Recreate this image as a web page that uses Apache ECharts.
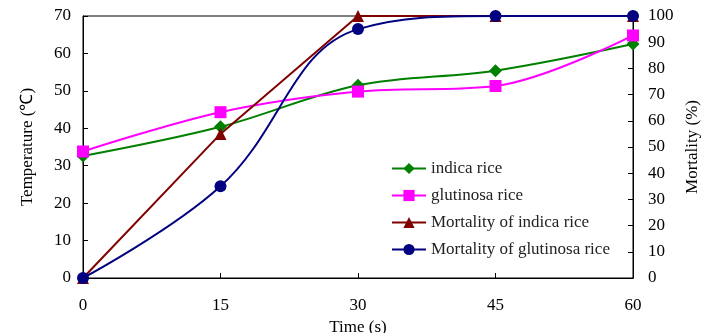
<!DOCTYPE html>
<html>
<head>
<meta charset="utf-8">
<script src="https://cdn.jsdelivr.net/npm/echarts@6/dist/echarts.min.js"></script>
<style>html,body{margin:0;padding:0;background:#fff;}#c{width:703px;height:333px;}</style>
</head>
<body>
<div id="c"></div>
<script>
var times = [0, 15, 30, 45, 60];
var indicaTemp = [32.6, 40.4, 51.5, 55.4, 62.5];
var glutinosaTemp = [33.8, 44.3, 49.8, 51.3, 64.8];
var indicaMort = [0, 55, 100, 100, 100];
var glutinosaMort = [0, 35, 95, 100, 100];
var seriesNames = ['indica rice', 'glutinosa rice', 'Mortality of indica rice', 'Mortality of glutinosa rice'];

function pairs(vals){ return times.map(function(t,i){ return [t, vals[i]]; }); }
var FONT = "'Liberation Serif', 'Times New Roman', serif";
var chart = echarts.init(document.getElementById('c'), null, {renderer:'canvas'});
chart.setOption({
  animation: false,
  textStyle: {fontFamily: FONT},
  grid: {left: 83, right: 70, top: 16, bottom: 55, containLabel: false, outerBoundsMode: 'none',
         show: true, borderColor: '#000', borderWidth: 1, backgroundColor: 'transparent'},
  legend: {
    orient: 'vertical', left: 386, top: 155, itemGap: 10, itemWidth: 34, itemHeight: 14,
    textStyle: {fontFamily: FONT, fontSize: 17, color: '#222'},
    data: seriesNames
  },
  xAxis: {
    type: 'value', min: 0, max: 60, interval: 15,
    name: 'Time (s)', nameLocation: 'middle', nameGap: 40,
    nameTextStyle: {fontFamily: FONT, fontSize: 17, color: '#000'},
    axisLine: {lineStyle: {color: '#000'}},
    axisTick: {inside: true, length: 5, lineStyle: {color: '#000'}},
    axisLabel: {fontFamily: FONT, fontSize: 17, color: '#000', margin: 19},
    splitLine: {show: false}
  },
  yAxis: [{
    type: 'value', min: 0, max: 70, interval: 10, position: 'left',
    name: 'Temperature (℃)', nameLocation: 'middle', nameGap: 47, nameRotate: 90,
    nameTextStyle: {fontFamily: FONT, fontSize: 17, color: '#000'},
    axisLine: {show: true, lineStyle: {color: '#000'}},
    axisTick: {show: true, inside: true, length: 5, lineStyle: {color: '#000'}},
    axisLabel: {fontFamily: FONT, fontSize: 17, color: '#000', margin: 12},
    splitLine: {show: false}
  }, {
    type: 'value', min: 0, max: 100, interval: 10, position: 'right',
    name: 'Mortality (%)', nameLocation: 'middle', nameGap: 42, nameRotate: 90,
    nameTextStyle: {fontFamily: FONT, fontSize: 17, color: '#000'},
    axisLine: {show: true, lineStyle: {color: '#000'}},
    axisTick: {show: true, inside: true, length: 5, lineStyle: {color: '#000'}},
    axisLabel: {fontFamily: FONT, fontSize: 17, color: '#000', margin: 15},
    splitLine: {show: false}
  }],
  series: [{
    name: seriesNames[0], type: 'line', yAxisIndex: 0, smooth: 0.35, clip: false,
    data: pairs(indicaTemp), symbol: 'diamond', symbolSize: 13,
    itemStyle: {color: '#008000'}, lineStyle: {color: '#008000', width: 2}
  }, {
    name: seriesNames[1], type: 'line', yAxisIndex: 0, smooth: 0.35, clip: false,
    data: pairs(glutinosaTemp), symbol: 'rect', symbolSize: 12,
    itemStyle: {color: '#FF00FF'}, lineStyle: {color: '#FF00FF', width: 2}
  }, {
    name: seriesNames[2], type: 'line', yAxisIndex: 1, smooth: false, clip: false,
    data: pairs(indicaMort), symbol: 'triangle', symbolSize: 12,
    itemStyle: {color: '#800000'}, lineStyle: {color: '#800000', width: 2}
  }, {
    name: seriesNames[3], type: 'line', yAxisIndex: 1, smooth: 0.4, clip: false,
    data: pairs(glutinosaMort), symbol: 'circle', symbolSize: 12,
    itemStyle: {color: '#000080'}, lineStyle: {color: '#000080', width: 2}
  }]
});
</script>
</body>
</html>
